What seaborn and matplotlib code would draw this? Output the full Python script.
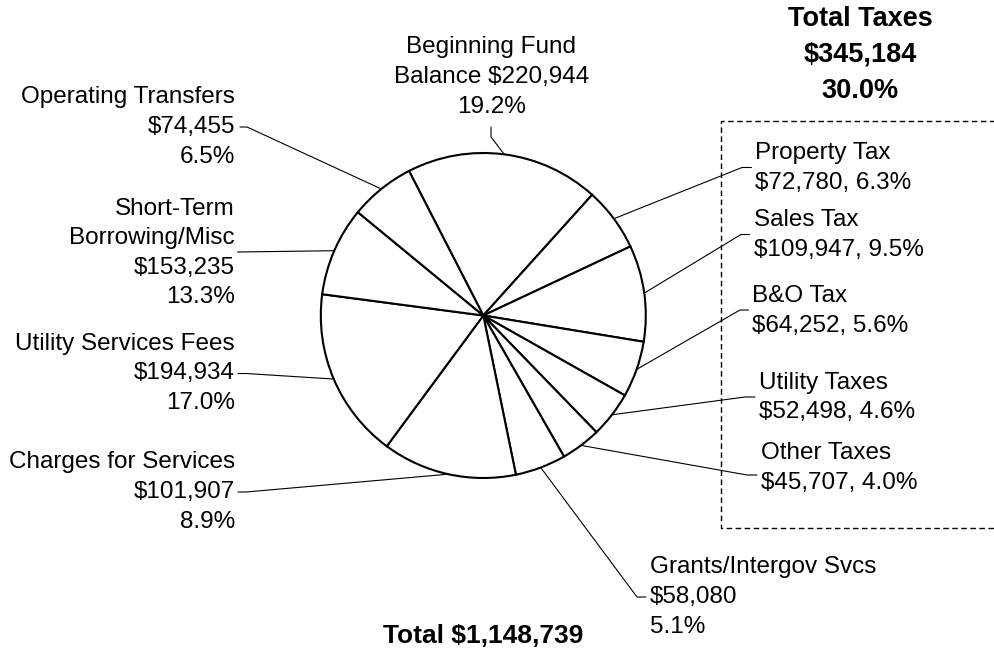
import numpy as np
import matplotlib
matplotlib.use("Agg")
import matplotlib.pyplot as plt
import seaborn as sns

# revenue sources, labels listed clockwise from top
names = ["Beginning Fund\nBalance", "Property Tax", "Sales Tax", "B&O Tax",
         "Utility Taxes", "Other Taxes", "Grants/Intergov Svcs",
         "Charges for Services", "Utility Services Fees",
         "Short-Term\nBorrowing/Misc", "Operating Transfers"]
amounts = [220944, 72780, 109947, 64252, 52498, 45707, 58080,
           101907, 194934, 153235, 74455]
pcts = [19.2, 6.3, 9.5, 5.6, 4.6, 4.0, 5.1, 8.9, 17.0, 13.3, 6.5]
styles = ["joined", "inline", "inline", "inline", "inline", "inline",
          "stack", "stack", "stack", "stack", "stack"]
# the source chart draws Charges and Short-Term slices swapped
slice_order = [0, 1, 2, 3, 4, 5, 6, 9, 8, 7, 10]
total = 1148739
tax_total = 345184
tax_pct = 30.0

sns.set_theme(style="white")
plt.rcParams["font.family"] = ["Liberation Sans", "DejaVu Sans"]
plt.rcParams["text.color"] = "black"

W, H = 995, 653
fig = plt.figure(figsize=(W / 100, H / 100), dpi=100)
ax = fig.add_axes([0, 0, 1, 1])

cx, cy, r = 483.3, 315.5, 162.5
slice_vals = [amounts[i] for i in slice_order]
wedges, _ = ax.pie(slice_vals, center=(cx, cy), radius=r, startangle=-117.2,
                   counterclock=True, frame=True,
                   colors=["white"] * len(slice_vals),
                   wedgeprops=dict(edgecolor="black", linewidth=1.5))
ax.set_xlim(0, W)
ax.set_ylim(H, 0)   # pixel-like coords, y down
ax.axis("off")

# label placement: text anchor, alignment, leader elbow points (text side)
place = [
    ((491.5, 77), "center", [(491, 137), (491, 127)]),
    ((755, 168), "left", [(742, 167.5), (751.5, 167.5)]),
    ((754, 235), "left", [(741, 234.5), (749.5, 234.5)]),
    ((752.5, 311), "left", [(740, 310), (748.5, 310)]),
    ((759, 397.5), "left", [(745, 397), (755, 397)]),
    ((761, 468), "left", [(747, 475), (757, 475)]),
    ((650, 597), "left", [(637, 597), (646, 597)]),
    ((235, 492), "right", [(246, 492), (238, 492)]),
    ((235, 373.5), "right", [(246, 373.5), (238, 373.5)]),
    ((235, 253), "right", [(237.5, 252)]),
    ((235, 127), "right", [(247, 127), (240, 127)]),
]

for w, name, amt, pct, sty, (pos, ha, elbow) in zip(
        wedges, names, amounts, pcts, styles, place):
    if sty == "joined":
        txt = f"{name} ${amt:,}\n{pct:.1f}%"
    elif sty == "inline":
        txt = f"{name}\n${amt:,}, {pct:.1f}%"
    else:
        txt = f"{name}\n${amt:,}\n{pct:.1f}%"
    ax.text(pos[0], pos[1], txt, ha=ha, va="center", multialignment=ha,
            fontsize=17.5, linespacing=1.45, color="black")
    th = np.deg2rad((w.theta1 + w.theta2) / 2)
    px, py = cx + r * np.cos(th), cy + r * np.sin(th)
    xs = [px] + [p[0] for p in elbow]
    ys = [py] + [p[1] for p in elbow]
    ax.plot(xs, ys, color="black", linewidth=0.8, zorder=0)

# dashed box around the tax group
ax.plot([1000, 721, 721, 1000], [121, 121, 528, 528], color="black",
        linewidth=1.0, linestyle=(0, (4, 2.5)))

ax.text(860, 54.5, f"Total Taxes\n${tax_total:,}\n{tax_pct:.1f}%", ha="center",
        va="center", fontsize=19.5, fontweight="bold", linespacing=1.5,
        color="black")
ax.text(483, 636, f"Total ${total:,}", ha="center", va="center",
        fontsize=19, fontweight="bold", color="black")

fig.savefig("out.png", dpi=100, facecolor="white")
